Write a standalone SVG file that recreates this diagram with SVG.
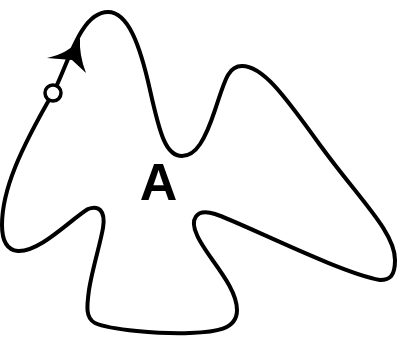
<svg xmlns="http://www.w3.org/2000/svg" width="399" height="339" viewBox="0 0 399 339">
<style>
.curve{fill:none;stroke:#000;stroke-width:4;stroke-linejoin:round}
.lbl{font-family:"Liberation Sans",Arial,sans-serif;font-weight:bold;font-size:52px;fill:#000}
</style>
<rect width="399" height="339" fill="#fff"/>
<g id="connectors">
<path class="curve" d="M53,93 C68,65 80,12 108,12 C128,12 140,45 150,90 C160,135 166,156 182,156 C196,156 205,140 215,110 C225,80 228,66 242,66 C262,66 282,92 320,145 C360,200 395,232 395,260 C395,276 390,280 380,280 C340,273 240,222 215,214 C195,208 190,220 197,235 C205,255 237,285 237,310 C237,330 215,332 190,333 C160,334 110,330 95,323 C85,318 87,305 89,290 C92,270 100,245 103,228 C106,210 98,205 88,209 C70,220 40,252 18,251 C5,250 2,238 2,225 C2,190 20,150 53,93 Z"/>
<path d="M80,38 Q70,53 47,58 L72,60 L86,73 Q79,55 80,38 Z" fill="#000"/>
</g>
<g id="start">
<circle cx="53" cy="93" r="8" fill="#fff" stroke="#000" stroke-width="3.5"/>
</g>
<g id="label-A">
<text class="lbl" x="158.5" y="200" text-anchor="middle">A</text>
</g>
</svg>
